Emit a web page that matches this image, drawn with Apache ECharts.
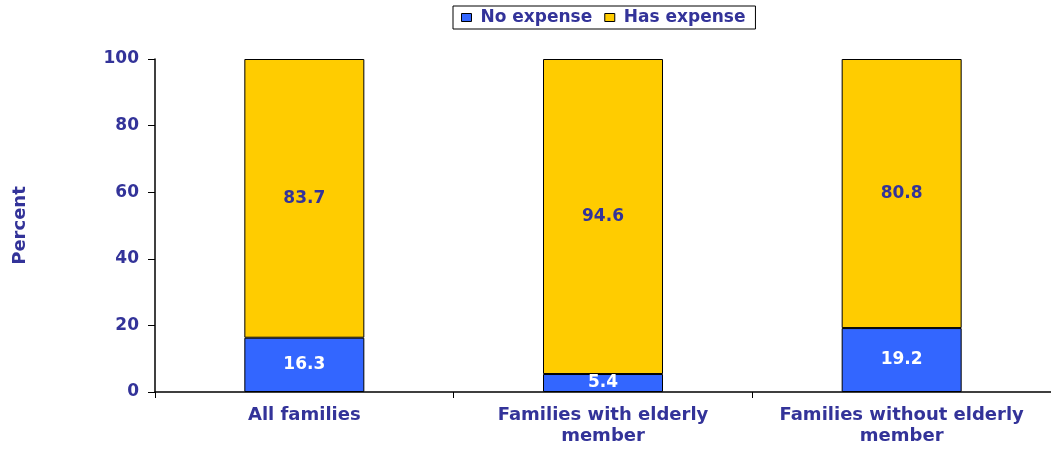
<!DOCTYPE html>
<html>
<head>
<meta charset="utf-8">
<script src="https://cdn.jsdelivr.net/npm/echarts@6/dist/echarts.min.js"></script>
<style>
  html, body { margin: 0; padding: 0; background: #fff; }
  #chart { width: 1051px; height: 451px; }
</style>
</head>
<body>
<div id="chart"></div>
<script>
// Share of families with and without the expense, by family type
const categories = ['All families', 'Families with elderly\nmember', 'Families without elderly\nmember'];
const noExpense = [16.3, 5.4, 19.2];
const hasExpense = [83.7, 94.6, 80.8];
const yTicks = [0, 20, 40, 60, 80, 100];

const ink = '#333399';
const font = '"DejaVu Sans", Verdana, sans-serif';

const chart = echarts.init(document.getElementById('chart'));
chart.setOption({
  animation: false,
  textStyle: { fontFamily: font },
  legend: {
    data: ['No expense', 'Has expense'],
    left: 453,
    top: 6,
    orient: 'horizontal',
    borderColor: '#000',
    borderWidth: 1,
    padding: [3, 10, 3, 8],
    itemGap: 12,
    itemWidth: 10,
    itemHeight: 8,
    icon: 'rect',
    itemStyle: { borderColor: '#000', borderWidth: 1 },
    textStyle: { color: ink, fontWeight: 'bold', fontSize: 17, fontFamily: font, padding: [0, 0, 0, 4] }
  },
  grid: { left: 155, top: 59, width: 903, height: 333, containLabel: false },
  xAxis: {
    type: 'category',
    data: categories,
    axisLine: { lineStyle: { color: '#000', width: 1.5 } },
    axisTick: { show: true, length: 6, lineStyle: { color: '#000' } },
    axisLabel: {
      color: ink, fontWeight: 'bold', fontSize: 18, fontFamily: font,
      lineHeight: 21, margin: 13, interval: 0
    }
  },
  yAxis: {
    type: 'value',
    min: yTicks[0],
    max: yTicks[yTicks.length - 1],
    interval: 20,
    name: 'Percent',
    nameLocation: 'middle',
    nameGap: 126,
    nameRotate: 90,
    nameTextStyle: { color: ink, fontWeight: 'bold', fontSize: 18, fontFamily: font },
    splitLine: { show: false },
    axisLine: { show: true, lineStyle: { color: '#000', width: 1.5 } },
    axisTick: { show: true, length: 7, lineStyle: { color: '#000' } },
    axisLabel: { color: ink, fontWeight: 'bold', fontSize: 17, fontFamily: font, margin: 16 }
  },
  series: [
    {
      name: 'No expense',
      type: 'bar',
      stack: 'total',
      barWidth: 120,
      data: noExpense,
      itemStyle: { color: '#3366FF', borderColor: '#000', borderWidth: 1 },
      label: {
        show: true, position: 'inside', color: '#fff',
        fontWeight: 'bold', fontSize: 17, fontFamily: font
      }
    },
    {
      name: 'Has expense',
      type: 'bar',
      stack: 'total',
      barWidth: 120,
      data: hasExpense,
      itemStyle: { color: '#FFCC00', borderColor: '#000', borderWidth: 1 },
      label: {
        show: true, position: 'inside', color: ink,
        fontWeight: 'bold', fontSize: 17, fontFamily: font
      }
    }
  ]
});
</script>
</body>
</html>
